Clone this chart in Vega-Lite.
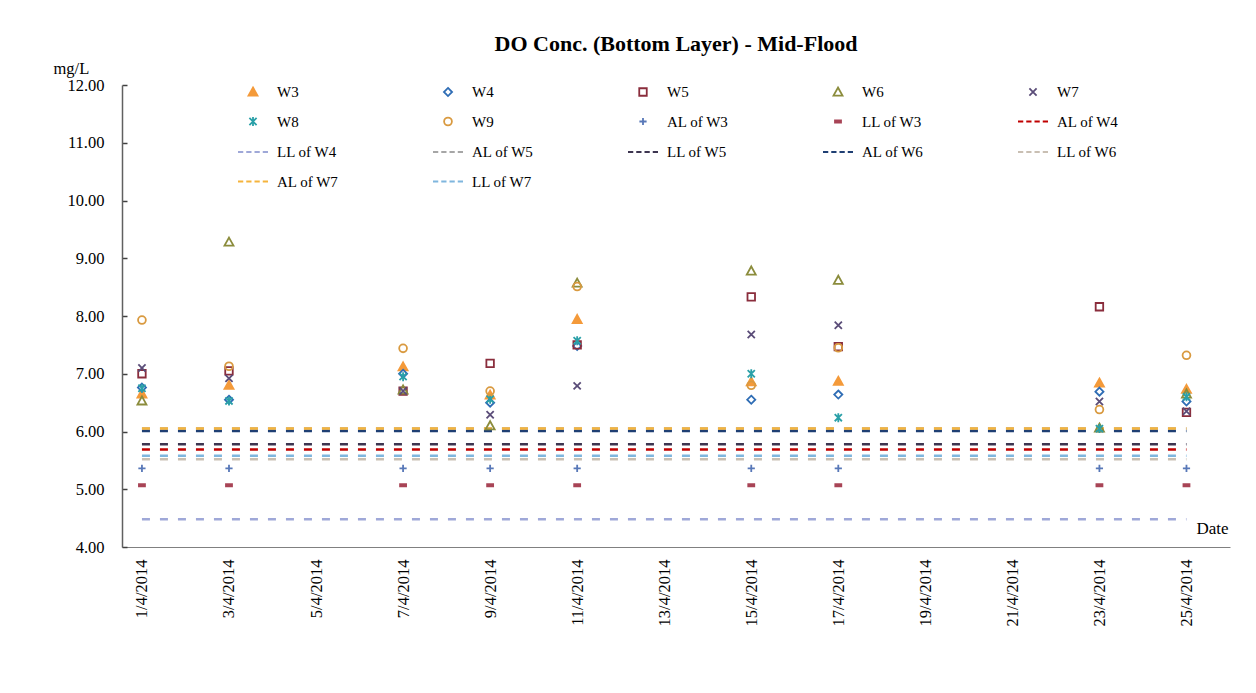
{
  "$schema": "https://vega.github.io/schema/vega-lite/v6.json",
  "width": 1108,
  "height": 462,
  "autosize": {"type": "none"},
  "padding": {"left": 122, "top": 85, "right": 26, "bottom": 146},
  "background": "white",
  "title": {
    "text": "DO Conc. (Bottom Layer) - Mid-Flood",
    "font": "Liberation Serif",
    "fontSize": 22,
    "fontWeight": "bold",
    "color": "#000000",
    "anchor": "middle",
    "frame": "group",
    "offset": 4
  },
  "datasets": {
    "points": [
      {"date": "2014-04-01T00:00:00Z", "series": "W3", "value": 6.65},
      {"date": "2014-04-01T00:00:00Z", "series": "W4", "value": 6.76},
      {"date": "2014-04-01T00:00:00Z", "series": "W5", "value": 7.00},
      {"date": "2014-04-01T00:00:00Z", "series": "W6", "value": 6.53},
      {"date": "2014-04-01T00:00:00Z", "series": "W7", "value": 7.10},
      {"date": "2014-04-01T00:00:00Z", "series": "W8", "value": 6.75},
      {"date": "2014-04-01T00:00:00Z", "series": "W9", "value": 7.93},
      {"date": "2014-04-01T00:00:00Z", "series": "AL of W3", "value": 5.36},
      {"date": "2014-04-01T00:00:00Z", "series": "LL of W3", "value": 5.07},
      {"date": "2014-04-03T00:00:00Z", "series": "W3", "value": 6.80},
      {"date": "2014-04-03T00:00:00Z", "series": "W4", "value": 6.55},
      {"date": "2014-04-03T00:00:00Z", "series": "W5", "value": 7.05},
      {"date": "2014-04-03T00:00:00Z", "series": "W6", "value": 9.28},
      {"date": "2014-04-03T00:00:00Z", "series": "W7", "value": 6.92},
      {"date": "2014-04-03T00:00:00Z", "series": "W8", "value": 6.53},
      {"date": "2014-04-03T00:00:00Z", "series": "W9", "value": 7.13},
      {"date": "2014-04-03T00:00:00Z", "series": "AL of W3", "value": 5.36},
      {"date": "2014-04-03T00:00:00Z", "series": "LL of W3", "value": 5.07},
      {"date": "2014-04-07T00:00:00Z", "series": "W3", "value": 7.12},
      {"date": "2014-04-07T00:00:00Z", "series": "W4", "value": 7.00},
      {"date": "2014-04-07T00:00:00Z", "series": "W5", "value": 6.70},
      {"date": "2014-04-07T00:00:00Z", "series": "W6", "value": 6.72},
      {"date": "2014-04-07T00:00:00Z", "series": "W7", "value": 6.70},
      {"date": "2014-04-07T00:00:00Z", "series": "W8", "value": 6.95},
      {"date": "2014-04-07T00:00:00Z", "series": "W9", "value": 7.44},
      {"date": "2014-04-07T00:00:00Z", "series": "AL of W3", "value": 5.36},
      {"date": "2014-04-07T00:00:00Z", "series": "LL of W3", "value": 5.07},
      {"date": "2014-04-09T00:00:00Z", "series": "W3", "value": 6.63},
      {"date": "2014-04-09T00:00:00Z", "series": "W4", "value": 6.50},
      {"date": "2014-04-09T00:00:00Z", "series": "W5", "value": 7.18},
      {"date": "2014-04-09T00:00:00Z", "series": "W6", "value": 6.10},
      {"date": "2014-04-09T00:00:00Z", "series": "W7", "value": 6.29},
      {"date": "2014-04-09T00:00:00Z", "series": "W8", "value": 6.56},
      {"date": "2014-04-09T00:00:00Z", "series": "W9", "value": 6.70},
      {"date": "2014-04-09T00:00:00Z", "series": "AL of W3", "value": 5.36},
      {"date": "2014-04-09T00:00:00Z", "series": "LL of W3", "value": 5.07},
      {"date": "2014-04-11T00:00:00Z", "series": "W3", "value": 7.94},
      {"date": "2014-04-11T00:00:00Z", "series": "W4", "value": 7.48},
      {"date": "2014-04-11T00:00:00Z", "series": "W5", "value": 7.50},
      {"date": "2014-04-11T00:00:00Z", "series": "W6", "value": 8.57},
      {"date": "2014-04-11T00:00:00Z", "series": "W7", "value": 6.79},
      {"date": "2014-04-11T00:00:00Z", "series": "W8", "value": 7.57},
      {"date": "2014-04-11T00:00:00Z", "series": "W9", "value": 8.51},
      {"date": "2014-04-11T00:00:00Z", "series": "AL of W3", "value": 5.36},
      {"date": "2014-04-11T00:00:00Z", "series": "LL of W3", "value": 5.07},
      {"date": "2014-04-15T00:00:00Z", "series": "W3", "value": 6.86},
      {"date": "2014-04-15T00:00:00Z", "series": "W4", "value": 6.55},
      {"date": "2014-04-15T00:00:00Z", "series": "W5", "value": 8.33},
      {"date": "2014-04-15T00:00:00Z", "series": "W6", "value": 8.78},
      {"date": "2014-04-15T00:00:00Z", "series": "W7", "value": 7.68},
      {"date": "2014-04-15T00:00:00Z", "series": "W8", "value": 7.00},
      {"date": "2014-04-15T00:00:00Z", "series": "W9", "value": 6.80},
      {"date": "2014-04-15T00:00:00Z", "series": "AL of W3", "value": 5.36},
      {"date": "2014-04-15T00:00:00Z", "series": "LL of W3", "value": 5.07},
      {"date": "2014-04-17T00:00:00Z", "series": "W3", "value": 6.87},
      {"date": "2014-04-17T00:00:00Z", "series": "W4", "value": 6.64},
      {"date": "2014-04-17T00:00:00Z", "series": "W5", "value": 7.47},
      {"date": "2014-04-17T00:00:00Z", "series": "W6", "value": 8.62},
      {"date": "2014-04-17T00:00:00Z", "series": "W7", "value": 7.84},
      {"date": "2014-04-17T00:00:00Z", "series": "W8", "value": 6.24},
      {"date": "2014-04-17T00:00:00Z", "series": "W9", "value": 7.45},
      {"date": "2014-04-17T00:00:00Z", "series": "AL of W3", "value": 5.36},
      {"date": "2014-04-17T00:00:00Z", "series": "LL of W3", "value": 5.07},
      {"date": "2014-04-23T00:00:00Z", "series": "W3", "value": 6.84},
      {"date": "2014-04-23T00:00:00Z", "series": "W4", "value": 6.69},
      {"date": "2014-04-23T00:00:00Z", "series": "W5", "value": 8.16},
      {"date": "2014-04-23T00:00:00Z", "series": "W6", "value": 6.06},
      {"date": "2014-04-23T00:00:00Z", "series": "W7", "value": 6.52},
      {"date": "2014-04-23T00:00:00Z", "series": "W8", "value": 6.05},
      {"date": "2014-04-23T00:00:00Z", "series": "W9", "value": 6.38},
      {"date": "2014-04-23T00:00:00Z", "series": "AL of W3", "value": 5.36},
      {"date": "2014-04-23T00:00:00Z", "series": "LL of W3", "value": 5.07},
      {"date": "2014-04-25T00:00:00Z", "series": "W3", "value": 6.73},
      {"date": "2014-04-25T00:00:00Z", "series": "W4", "value": 6.52},
      {"date": "2014-04-25T00:00:00Z", "series": "W5", "value": 6.33},
      {"date": "2014-04-25T00:00:00Z", "series": "W6", "value": 6.65},
      {"date": "2014-04-25T00:00:00Z", "series": "W7", "value": 6.35},
      {"date": "2014-04-25T00:00:00Z", "series": "W8", "value": 6.60},
      {"date": "2014-04-25T00:00:00Z", "series": "W9", "value": 7.32},
      {"date": "2014-04-25T00:00:00Z", "series": "AL of W3", "value": 5.36},
      {"date": "2014-04-25T00:00:00Z", "series": "LL of W3", "value": 5.07}
    ],
    "lines": [
      {"date": "2014-04-01T00:00:00Z", "series": "AL of W5", "value": 6.05},
      {"date": "2014-04-25T00:00:00Z", "series": "AL of W5", "value": 6.05},
      {"date": "2014-04-01T00:00:00Z", "series": "LL of W4", "value": 4.48},
      {"date": "2014-04-25T00:00:00Z", "series": "LL of W4", "value": 4.48},
      {"date": "2014-04-01T00:00:00Z", "series": "LL of W6", "value": 5.52},
      {"date": "2014-04-25T00:00:00Z", "series": "LL of W6", "value": 5.52},
      {"date": "2014-04-01T00:00:00Z", "series": "LL of W7", "value": 5.58},
      {"date": "2014-04-25T00:00:00Z", "series": "LL of W7", "value": 5.58},
      {"date": "2014-04-01T00:00:00Z", "series": "AL of W4", "value": 5.69},
      {"date": "2014-04-25T00:00:00Z", "series": "AL of W4", "value": 5.69},
      {"date": "2014-04-01T00:00:00Z", "series": "LL of W5", "value": 5.78},
      {"date": "2014-04-25T00:00:00Z", "series": "LL of W5", "value": 5.78},
      {"date": "2014-04-01T00:00:00Z", "series": "AL of W6", "value": 6.01},
      {"date": "2014-04-25T00:00:00Z", "series": "AL of W6", "value": 6.01},
      {"date": "2014-04-01T00:00:00Z", "series": "AL of W7", "value": 6.05},
      {"date": "2014-04-25T00:00:00Z", "series": "AL of W7", "value": 6.05}
    ]
  },
  "encoding": {
    "x": {
      "field": "date",
      "type": "temporal",
      "title": "Date",
      "scale": {
        "type": "utc",
        "domain": [
          {"year": 2014, "month": 3, "date": 31, "hours": 13, "utc": true},
          {"year": 2014, "month": 4, "date": 26, "utc": true}
        ]
      },
      "axis": {
        "values": [
          {"year": 2014, "month": 4, "date": 1, "utc": true},
          {"year": 2014, "month": 4, "date": 3, "utc": true},
          {"year": 2014, "month": 4, "date": 5, "utc": true},
          {"year": 2014, "month": 4, "date": 7, "utc": true},
          {"year": 2014, "month": 4, "date": 9, "utc": true},
          {"year": 2014, "month": 4, "date": 11, "utc": true},
          {"year": 2014, "month": 4, "date": 13, "utc": true},
          {"year": 2014, "month": 4, "date": 15, "utc": true},
          {"year": 2014, "month": 4, "date": 17, "utc": true},
          {"year": 2014, "month": 4, "date": 19, "utc": true},
          {"year": 2014, "month": 4, "date": 21, "utc": true},
          {"year": 2014, "month": 4, "date": 23, "utc": true},
          {"year": 2014, "month": 4, "date": 25, "utc": true}
        ],
        "format": "%-d/%-m/%Y",
        "labelAngle": -90,
        "labelAlign": "right",
        "labelBaseline": "middle",
        "labelPadding": 12,
        "labelFont": "Liberation Serif",
        "labelFontSize": 16.5,
        "labelColor": "#000000",
        "labelOverlap": false,
        "labelFlush": false,
        "ticks": false,
        "grid": false,
        "domainColor": "#808080",
        "domainWidth": 1,
        "title": "Date",
        "titleFont": "Liberation Serif",
        "titleFontSize": 17,
        "titleFontWeight": "normal",
        "titleColor": "#000000",
        "titleAngle": 0,
        "titleAlign": "right",
        "titleBaseline": "middle",
        "titleX": 1106,
        "titleY": -19
      }
    },
    "y": {
      "field": "value",
      "type": "quantitative",
      "scale": {"domain": [4, 12], "nice": false, "zero": false},
      "axis": {
        "values": [4, 5, 6, 7, 8, 9, 10, 11, 12],
        "format": ".2f",
        "labelFont": "Liberation Serif",
        "labelFontSize": 16.5,
        "labelColor": "#000000",
        "labelPadding": 23,
        "tickSize": -5,
        "tickColor": "#404040",
        "tickWidth": 1.5,
        "grid": false,
        "domainColor": "#606060",
        "domainWidth": 1.5,
        "title": "mg/L",
        "titleFont": "Liberation Serif",
        "titleFontSize": 16.5,
        "titleFontWeight": "normal",
        "titleColor": "#000000",
        "titleAngle": 0,
        "titleAlign": "left",
        "titleBaseline": "middle",
        "titleX": -69,
        "titleY": -17
      }
    }
  },
  "layer": [
    {
      "data": {"name": "lines"},
      "mark": {"type": "line", "strokeWidth": 2.5, "strokeDash": [8, 10]},
      "encoding": {
        "stroke": {
          "field": "series",
          "type": "nominal",
          "legend": null,
          "scale": {
            "domain": ["AL of W5", "LL of W4", "LL of W6", "LL of W7", "AL of W4", "LL of W5", "AL of W6", "AL of W7"],
            "range": ["#a6a6a6", "#9fa8d8", "#c9bfb3", "#7fb6de", "#c00000", "#3d3550", "#1f3f73", "#f5b43c"]
          }
        },
        "detail": {"field": "series"}
      }
    },
    {
      "data": {"name": "points"},
      "mark": {"type": "point", "filled": false, "size": 900, "strokeWidth": 1.8, "opacity": 1},
      "encoding": {
        "color": {
          "field": "series",
          "type": "nominal",
          "legend": {"title": null},
          "scale": {
            "domain": ["W3", "W4", "W5", "W6", "W7", "W8", "W9", "AL of W3", "LL of W3", "AL of W4", "LL of W4", "AL of W5", "LL of W5", "AL of W6", "LL of W6", "AL of W7", "LL of W7"],
            "range": ["#f49a3a", "#2f6db5", "#8a2d3c", "#8b8c3c", "#5a4c78", "#2aa0a8", "#d99a40", "#5878b8", "#a84456", "#c00000", "#9fa8d8", "#a6a6a6", "#3d3550", "#1f3f73", "#c9bfb3", "#f5b43c", "#7fb6de"]
          }
        },
        "fill": {
          "field": "series",
          "type": "nominal",
          "legend": {"title": null},
          "scale": {
            "domain": ["W3", "W4", "W5", "W6", "W7", "W8", "W9", "AL of W3", "LL of W3", "AL of W4", "LL of W4", "AL of W5", "LL of W5", "AL of W6", "LL of W6", "AL of W7", "LL of W7"],
            "range": ["#f49a3a", "transparent", "transparent", "transparent", "transparent", "transparent", "transparent", "transparent", "#a84456", "transparent", "transparent", "transparent", "transparent", "transparent", "transparent", "transparent", "transparent"]
          }
        },
        "shape": {
          "field": "series",
          "type": "nominal",
          "legend": {"title": null},
          "scale": {
            "domain": ["W3", "W4", "W5", "W6", "W7", "W8", "W9", "AL of W3", "LL of W3", "AL of W4", "LL of W4", "AL of W5", "LL of W5", "AL of W6", "LL of W6", "AL of W7", "LL of W7"],
            "range": [
              "M0,-0.3L0.3,0.24L-0.3,0.24Z",
              "M0,-0.27L0.27,0L0,0.27L-0.27,0Z",
              "M-0.25,-0.25H0.25V0.25H-0.25Z",
              "M0,-0.3L0.3,0.24L-0.3,0.24Z",
              "M-0.24,-0.24L0.24,0.24M-0.24,0.24L0.24,-0.24",
              "M-0.24,-0.24L0.24,0.24M-0.24,0.24L0.24,-0.24M0,-0.3V0.3",
              "M0.26,0A0.26,0.26 0 1 1 -0.26,0A0.26,0.26 0 1 1 0.26,0Z",
              "M-0.24,0H0.24M0,-0.24V0.24",
              "M-0.2,-0.07H0.2V0.07H-0.2Z",
              "M-1,0H-0.65M-0.45,0H-0.1M0.1,0H0.45M0.65,0H1",
              "M-1,0H-0.65M-0.45,0H-0.1M0.1,0H0.45M0.65,0H1",
              "M-1,0H-0.65M-0.45,0H-0.1M0.1,0H0.45M0.65,0H1",
              "M-1,0H-0.65M-0.45,0H-0.1M0.1,0H0.45M0.65,0H1",
              "M-1,0H-0.65M-0.45,0H-0.1M0.1,0H0.45M0.65,0H1",
              "M-1,0H-0.65M-0.45,0H-0.1M0.1,0H0.45M0.65,0H1",
              "M-1,0H-0.65M-0.45,0H-0.1M0.1,0H0.45M0.65,0H1",
              "M-1,0H-0.65M-0.45,0H-0.1M0.1,0H0.45M0.65,0H1"
            ]
          }
        }
      }
    }
  ],
  "config": {
    "view": {"stroke": null},
    "legend": {
      "orient": "none",
      "legendX": 115,
      "legendY": -9,
      "direction": "horizontal",
      "columns": 5,
      "columnPadding": 90,
      "rowPadding": 5.5,
      "padding": 0,
      "symbolSize": 900,
      "symbolStrokeWidth": 1.8,
      "labelFont": "Liberation Serif",
      "labelFontSize": 15,
      "labelColor": "#000000",
      "labelOffset": 8,
      "labelLimit": 200
    }
  }
}
